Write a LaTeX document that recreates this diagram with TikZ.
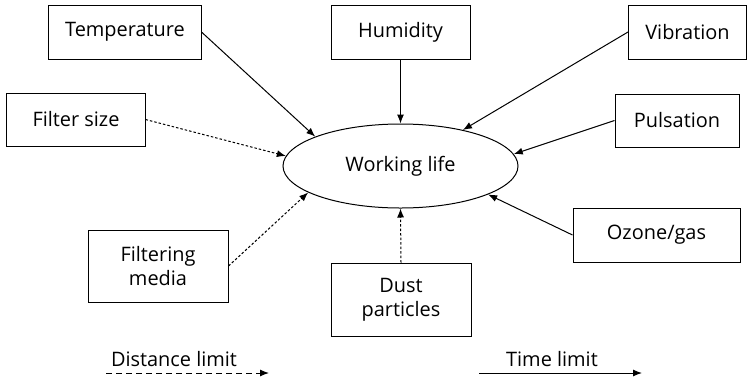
\documentclass[tikz,border=0pt]{standalone}
\usepackage{fontspec}
\setmainfont{Open Sans}
\usetikzlibrary{arrows.meta,shapes.geometric}
\begin{document}
\begin{tikzpicture}[x=1bp,y=-1bp,
  every node/.style={font=\fontsize{20}{24}\selectfont, inner sep=0pt, align=center},
  factor/.style n args={2}{draw, line width=1bp, minimum width=#1bp, minimum height=#2bp},
  link/.style={line width=1bp, -{Latex[length=9bp,width=7bp]}},
  timelink/.style={link},
  distlink/.style={link, dash pattern=on 2.5bp off 2bp},
  legenddist/.style={link, dash pattern=on 6bp off 4bp}
]
\useasboundingbox (0,0) rectangle (748,383);

% central outcome
\node[ellipse, draw, line width=1bp, minimum width=235bp, minimum height=84bp] (wl) at (400.5,166) {Working life};

% influencing factors
\node[factor={152}{54}] (temp)  at (125,32)    {Temperature};
\node[factor={139}{54}] (humid) at (400.5,32)  {Humidity};
\node[factor={118}{54}] (vib)   at (687.5,32)  {Vibration};
\node[factor={138}{53}] (fsize) at (76,119.5)  {Filter size};
\node[factor={124}{53}] (puls)  at (677,120.5) {Pulsation};
\node[factor={140}{72}] (fmed)  at (158,266)   {Filtering\\media};
\node[factor={167}{54}] (ozone) at (656.5,235) {Ozone/gas};
\node[factor={140}{73}] (dust)  at (401,299.5) {Dust\\particles};

% time-limited influences
\draw[timelink] (temp.east)  -- (wl.161);
\draw[timelink] (humid.south) -- (wl.north);
\draw[timelink] (vib.west)   -- (wl.30);
\draw[timelink] (puls.west)  -- (wl.6.5);
\draw[timelink] (ozone.west) -- (wl.-18.5);

% distance-limited influences
\draw[distlink] (fsize.east) -- (wl.175.6);
\draw[distlink] (fmed.east)  -- (wl.196.3);
\draw[distlink] (dust.north) -- (wl.south);

% legend
\coordinate (d0) at (106,373);
\coordinate (d1) at (269,373);
\coordinate (t0) at (479,373);
\coordinate (t1) at (642,373);
\draw[legenddist] (d0) -- (d1);
\draw[timelink] (t0) -- (t1);
\node[anchor=base] (dlabel) at (174,366) {Distance limit};
\node[anchor=base] (tlabel) at (552,366) {Time limit};
\end{tikzpicture}
\end{document}
